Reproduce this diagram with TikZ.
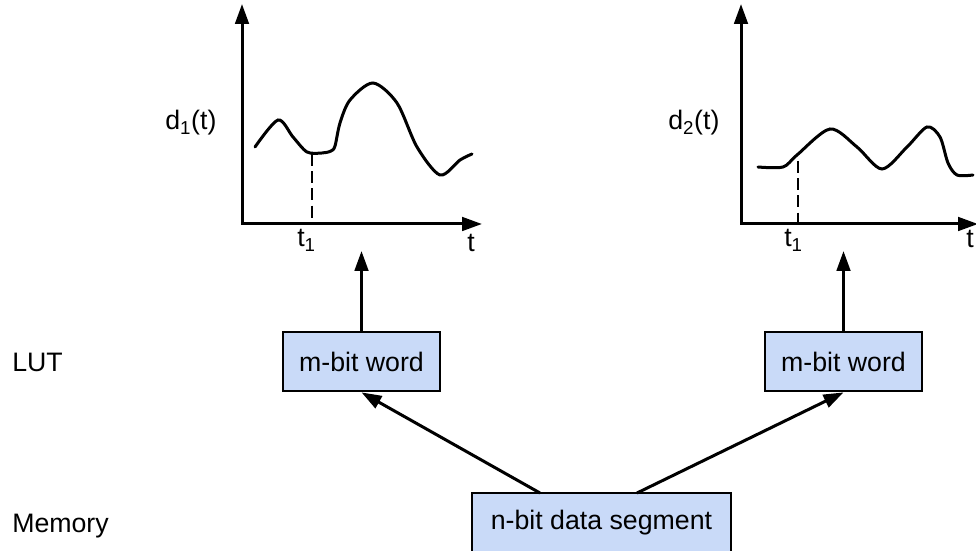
\documentclass[tikz,border=0pt]{standalone}
\usepackage{fontspec}
\setmainfont{Liberation Sans}
\usetikzlibrary{arrows.meta}
\definecolor{boxblue}{HTML}{C9DAF8}

\begin{document}
\begin{tikzpicture}[x=0.25mm, y=-0.25mm, font=\fontsize{19}{23}\selectfont,
	tip/.style={-{Triangle[length=5mm,width=3.4mm]}},
	axes/.style={line width=0.75mm, {Triangle[length=5mm,width=3.4mm]}-{Triangle[length=5mm,width=3.4mm]}},
	signal/.style={line width=0.75mm, line cap=round},
	marker/.style={line width=0.7mm, dash pattern=on 3mm off 1.3mm},
	label/.style={inner sep=0pt, anchor=base west},
	word/.style={draw, line width=0.7mm, fill=boxblue, inner sep=0pt, minimum width=39.25mm, minimum height=14.75mm},
	link/.style={line width=0.75mm, tip}]
	\useasboundingbox (0,0) rectangle (976,551);
	% left graph
	\coordinate (o1) at (242,224);
	\coordinate (y1) at (242,4);
	\coordinate (x1) at (482,224);
	\draw[axes] (y1) -- (o1) -- (x1);
	\draw[signal] plot[smooth] coordinates {(255,147) (278,120) (293,137) (307,152) (322,153) (331,151) (335,146) (340,123) (350,100) (373,83) (397,103) (417,147) (440,175) (460,160) (472,154)};
	\draw[marker] (312,154) -- (312,224);
	\node[label] (d1) at (165,130) {d\textsubscript{1}(t)};
	\node[label] (t1a) at (297,247) {t\textsubscript{1}};
	\node[label] (ta) at (467,252) {t};
	% right graph
	\coordinate (o2) at (741,224);
	\coordinate (y2) at (741,4);
	\coordinate (x2) at (978,224);
	\draw[axes] (y2) -- (o2) -- (x2);
	\draw[signal] plot[smooth] coordinates {(758,167) (783,167) (797,155) (830,129) (857,147) (882,169) (907,147) (927,127) (940,137) (948,163) (957,175) (973,175)};
	\draw[marker] (798,161) -- (798,224);
	\node[label] (d2) at (668,130) {d\textsubscript{2}(t)};
	\node[label] (t1b) at (784,247) {t\textsubscript{1}};
	\node[label] (tb) at (966,248) {t};
	% levels
	\node[label] (lut) at (12,372) {LUT};
	\node[label] (mem) at (12,532) {Memory};
	% boxes
	\node[word] (lw) at (361.5,361.5) {m-bit word};
	\node[word] (rw) at (843.5,361.5) {m-bit word};
	\node[word, minimum width=64.75mm] (seg) at (601.5,522.5) {n-bit data segment};
	% connections
	\coordinate (up1) at (361.5,251);
	\coordinate (up2) at (843.5,251);
	\coordinate (segl) at (540,493);
	\coordinate (segr) at (637,493);
	\draw[link] (lw) -- (up1);
	\draw[link] (rw) -- (up2);
	\draw[link] (segl) -- (lw.south);
	\draw[link] (segr) -- (rw.south);
\end{tikzpicture}
\end{document}
